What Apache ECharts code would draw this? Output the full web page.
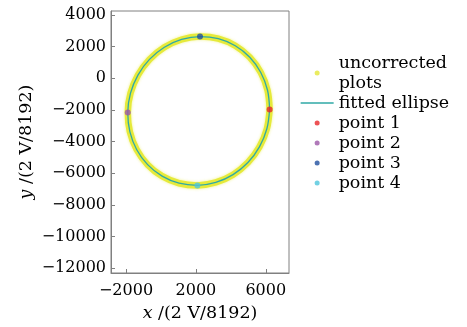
<!DOCTYPE html>
<html><head><meta charset="utf-8">
<script src="https://cdn.jsdelivr.net/npm/echarts@6/dist/echarts.min.js"></script>
<style>html,body{margin:0;padding:0;background:#fff}#c{width:467px;height:327px}</style>
</head><body><div id="c"></div>
<script>
// Fitted ellipse, points (x, y)
const ellipseX = [6220, 6101, 5714, 5084, 4255, 3283, 2235, 1181, 195, -658, -1318, -1743, -1900, -1781, -1394, -764, 65, 1037, 2085, 3139, 4125, 4978, 5638, 6063, 6220];
const ellipseY = [-1970, -757, 367, 1325, 2053, 2500, 2635, 2450, 1957, 1191, 203, -941, -2160, -3373, -4497, -5455, -6183, -6630, -6765, -6580, -6087, -5321, -4333, -3189, -1970];
const pointNames = ['point 1', 'point 2', 'point 3', 'point 4'];
const pointX = [6220, -1900, 2235, 2085];
const pointY = [-1970, -2160, 2635, -6765];
const xTicks = [-2000, 2000, 6000];
const yTicks = [4000, 2000, 0, -2000, -4000, -6000, -8000, -10000, -12000];

const FONT = 'DejaVu Serif';
const pointColors = ['#e8272a', '#9c58a8', '#1f4f9f', '#4fc6dc'];
const fmt = v => String(v).replace('-', '\u2212');
const curve = ellipseX.map((x, i) => [x, ellipseY[i]]);

const series = [
  { name: 'uncorrected\nplots', type: 'line', data: curve, smooth: 0.35, symbol: 'none',
    lineStyle: { color: '#e6ea3a', width: 6.5, shadowColor: 'rgba(230,234,58,0.6)', shadowBlur: 3 },
    itemStyle: { color: '#e6ea3a' }, z: 1 },
  { name: 'fitted ellipse', type: 'line', data: curve, smooth: 0.35, symbol: 'none',
    lineStyle: { color: '#2fa9a6', width: 1.3 }, itemStyle: { color: '#2fa9a6' }, z: 2 }
];
pointNames.forEach((n, i) => series.push({
  name: n, type: 'scatter', data: [[pointX[i], pointY[i]]], symbolSize: 6,
  itemStyle: { color: pointColors[i] }, z: 3
}));

const chart = echarts.init(document.getElementById('c'), null, { renderer: 'canvas' });
chart.setOption({
  animation: false,
  textStyle: { fontFamily: FONT },
  grid: { left: 111, right: 178, top: 11, bottom: 47, show: true, borderColor: '#808080', borderWidth: 1 },
  legend: {
    orient: 'vertical', left: 295, top: 48, itemWidth: 33, itemHeight: 5, itemGap: 0,
    textStyle: { fontFamily: FONT, fontSize: 17.5, color: '#000', lineHeight: 20 },
    data: [
      { name: 'uncorrected\nplots', icon: 'circle', itemStyle: { color: '#eaec60' } },
      { name: 'fitted ellipse', itemStyle: { color: 'rgba(0,0,0,0)', opacity: 0 }, lineStyle: { width: 1.3, color: '#2fa9a6' } },
      ...pointNames.map(n => ({ name: n, icon: 'circle' }))
    ]
  },
  xAxis: {
    type: 'value', min: -2860, max: 7330,
    splitLine: { show: false },
    axisLine: { show: true, onZero: false, lineStyle: { color: '#808080' } },
    axisTick: { show: true, inside: true, length: 4, customValues: xTicks, lineStyle: { color: '#808080' } },
    axisLabel: { customValues: xTicks, formatter: fmt, fontFamily: FONT, fontSize: 16, color: '#000', margin: 10 },
    name: '{i|x} /(2 V/8192)', nameLocation: 'middle', nameGap: 31,
    nameTextStyle: { fontFamily: FONT, fontSize: 17.5, color: '#000',
      rich: { i: { fontFamily: FONT, fontStyle: 'italic', fontSize: 17.5, color: '#000' } } }
  },
  yAxis: {
    type: 'value', min: -12300, max: 4250,
    splitLine: { show: false },
    axisLine: { show: true, onZero: false, lineStyle: { color: '#808080' } },
    axisTick: { show: true, inside: true, length: 4, customValues: yTicks, lineStyle: { color: '#808080' } },
    axisLabel: { customValues: yTicks, formatter: fmt, fontFamily: FONT, fontSize: 16, color: '#000', margin: 5 },
    name: '{i|y} /(2 V/8192)', nameLocation: 'middle', nameGap: 76, nameRotate: 90,
    nameTextStyle: { fontFamily: FONT, fontSize: 17.5, color: '#000',
      rich: { i: { fontFamily: FONT, fontStyle: 'italic', fontSize: 17.5, color: '#000' } } }
  },
  series: series
});
</script></body></html>
